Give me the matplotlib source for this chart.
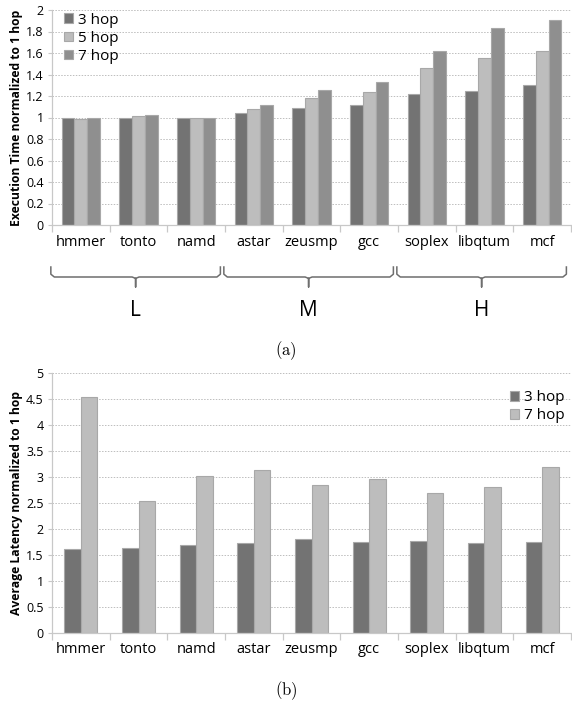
import numpy as np
import matplotlib
matplotlib.use("Agg")
import matplotlib.pyplot as plt
from matplotlib.transforms import blended_transform_factory

plt.rcParams['font.family'] = ['Open Sans', 'DejaVu Sans']
plt.rcParams['mathtext.fontset'] = 'cm'

benchmarks = ['hmmer', 'tonto', 'namd', 'astar', 'zeusmp', 'gcc', 'soplex', 'libqtum', 'mcf']
groups = ['L', 'M', 'H']

# (a) execution time normalized to 1 hop
exec_3hop = [1.00, 1.00, 1.00, 1.04, 1.09, 1.12, 1.22, 1.25, 1.30]
exec_5hop = [0.99, 1.01, 1.00, 1.08, 1.18, 1.24, 1.46, 1.55, 1.62]
exec_7hop = [0.995, 1.02, 1.00, 1.12, 1.26, 1.33, 1.62, 1.83, 1.91]

# (b) average latency normalized to 1 hop
lat_3hop = [1.61, 1.63, 1.69, 1.72, 1.80, 1.74, 1.76, 1.72, 1.74]
lat_7hop = [4.55, 2.54, 3.03, 3.14, 2.84, 2.97, 2.70, 2.81, 3.20]

dark = '#737373'
light = '#bdbdbd'
mid = '#8f8f8f'
edge = '#a8a8a8'
axcol = '#c8c8c8'

fig = plt.figure(figsize=(5.72, 7.04), dpi=100)
x = np.arange(len(benchmarks))


def style_axes(ax, ticks):
    ax.set_xlim(-0.5, 8.37)
    ax.set_ylim(0, ticks[-1])
    ax.set_yticks(ticks)
    ax.set_yticklabels(['%g' % v for v in ticks])
    ax.yaxis.grid(True, linestyle=(0, (1.5, 1.5)), color='#bdbdbd', linewidth=0.7)
    ax.set_axisbelow(True)
    for s in ['top', 'right']:
        ax.spines[s].set_visible(False)
    for s in ['left', 'bottom']:
        ax.spines[s].set_color(axcol)
        ax.spines[s].set_linewidth(0.9)
    ax.set_xticks(x)
    ax.set_xticklabels(benchmarks, fontsize=10.5)
    ax.set_xticks(np.arange(-0.5, 9, 1), minor=True)
    ax.tick_params(axis='x', which='major', length=0, pad=7)
    ax.tick_params(axis='x', which='minor', length=5, color=axcol, width=0.9)
    ax.tick_params(axis='y', length=3, color=axcol, labelsize=9, pad=3)


# ---- (a) ----
ax1 = fig.add_axes([52 / 572, 1 - 225 / 704, 519 / 572, 215 / 704])
w = 0.22
ax1.bar(x - w, exec_3hop, w, color=dark, edgecolor=edge, linewidth=0.8, label='3 hop')
ax1.bar(x, exec_5hop, w, color=light, edgecolor=edge, linewidth=0.8, label='5 hop')
ax1.bar(x + w, exec_7hop, w, color=mid, edgecolor=edge, linewidth=0.8, label='7 hop')
style_axes(ax1, [0, 0.2, 0.4, 0.6, 0.8, 1, 1.2, 1.4, 1.6, 1.8, 2])
ax1.set_ylabel('Execution Time normalized to 1 hop', fontsize=8.7, fontweight='bold', labelpad=2)
ax1.legend(loc='upper left', bbox_to_anchor=(0.005, 1.03), frameon=False, fontsize=11,
           handlelength=0.6, handleheight=0.6, handletextpad=0.3, labelspacing=0.2,
           borderaxespad=0.2)

# braces under the groups
tr = blended_transform_factory(ax1.transData, fig.transFigure)
y_top = 1 - 267 / 704
y_mid = 1 - 277 / 704
y_tip = 1 - 287 / 704
r = 0.06
for g, name in enumerate(groups):
    a = 3 * g - 0.52
    b = 3 * g + 2.42
    c = (a + b) / 2
    bx = [a, a, a + r, c - r, c, c, c, c + r, b - r, b, b]
    by = [y_top, y_mid + 0.004, y_mid, y_mid, y_mid - 0.002, y_tip, y_mid - 0.002, y_mid,
          y_mid, y_mid + 0.004, y_top]
    ax1.plot(bx, by, color='#6e6e6e', lw=1.1, transform=tr, clip_on=False,
             solid_joinstyle='round')
    fig.text(c, 1 - 310 / 704, name, fontsize=15, ha='center', va='center', transform=tr)

fig.text(0.5, 1 - 351 / 704, r'$\mathrm{(a)}$', ha='center', va='center', fontsize=12)

# ---- (b) ----
ax2 = fig.add_axes([52 / 572, 1 - 632.7 / 704, 519 / 572, 259.4 / 704])
w2 = 0.285
ax2.bar(x - w2 / 2, lat_3hop, w2, color=dark, edgecolor=edge, linewidth=0.8, label='3 hop')
ax2.bar(x + w2 / 2, lat_7hop, w2, color=light, edgecolor=edge, linewidth=0.8, label='7 hop')
style_axes(ax2, [0, 0.5, 1, 1.5, 2, 2.5, 3, 3.5, 4, 4.5, 5])
ax2.set_ylabel('Average Latency normalized to 1 hop', fontsize=8.7, fontweight='bold', labelpad=2)
ax2.legend(loc='upper right', bbox_to_anchor=(1.005, 0.97), frameon=False, fontsize=11,
           handlelength=0.6, handleheight=0.6, handletextpad=0.3, labelspacing=0.2,
           borderaxespad=0.2)

fig.text(0.5, 1 - 691 / 704, r'$\mathrm{(b)}$', ha='center', va='center', fontsize=12)

fig.savefig('out.png', dpi=100)
